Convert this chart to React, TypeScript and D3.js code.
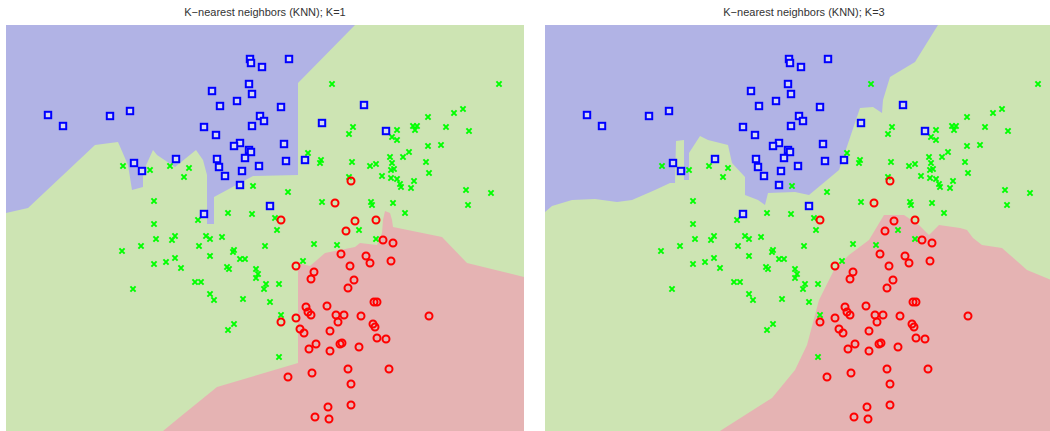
import React, { useRef, useEffect } from 'react';
import * as d3 from 'd3';

// test points (units = left panel pixels)
const bluePoints = [
  [48, 115], [63, 126], [110, 116], [130, 111], [134, 163], [142, 171], [176, 159],
  [250, 59], [251, 63], [262, 67], [289, 59], [249, 84], [212, 91], [252, 94], [237, 101],
  [220, 106], [281, 107], [260, 116], [264, 121], [204, 127], [252, 126], [216, 135], [322, 123],
  [240, 143], [234, 146], [284, 144], [249, 150], [251, 152], [217, 159], [245, 158], [219, 167],
  [259, 166], [286, 161], [305, 160], [225, 176], [242, 171], [240, 185], [270, 206], [204, 214],
  [364, 105], [386, 131]
];

const greenPoints = [
  [123, 166], [150, 170], [170, 166], [154, 201], [154, 224],
  [332, 84], [353, 127], [349, 134], [308, 153], [321, 160], [320, 163], [352, 162], [189, 168],
  [184, 177], [349, 177], [253, 186], [288, 192], [322, 202], [228, 213], [252, 214], [275, 218], [198, 220],
  [499, 84], [463, 109], [454, 113], [428, 117], [446, 127], [469, 131], [397, 130], [413, 126],
  [417, 126], [415, 130], [392, 137], [397, 140], [428, 146], [441, 145], [409, 152], [390, 157],
  [403, 157], [392, 163], [370, 166], [376, 164], [426, 162], [391, 170], [394, 169], [429, 173],
  [382, 176], [391, 178], [397, 179], [414, 181], [400, 184], [401, 187], [411, 188], [466, 190],
  [491, 193], [371, 202], [372, 205], [393, 203], [468, 205], [405, 213],
  [175, 236], [156, 239], [172, 240], [141, 246], [122, 251], [175, 258], [154, 264], [166, 262],
  [181, 268], [133, 289],
  [277, 230], [206, 236], [210, 239], [222, 237], [199, 246], [265, 246], [314, 244], [337, 245],
  [234, 250], [233, 252], [210, 256], [240, 259], [245, 259], [227, 267], [229, 269], [256, 269],
  [258, 274], [256, 278], [303, 261], [195, 282], [201, 282], [266, 284], [264, 289], [279, 284],
  [210, 294], [214, 300], [243, 299], [270, 302], [281, 315], [234, 324], [228, 330], [279, 357],
  [359, 230], [376, 239]
];

const redPoints = [
  [351, 181], [335, 203], [281, 220], [355, 221], [376, 220],
  [346, 231], [341, 254], [350, 266], [296, 266], [314, 272], [311, 279], [354, 280], [348, 288],
  [306, 307], [327, 306], [308, 312], [311, 315], [336, 315], [344, 315], [338, 322], [296, 318],
  [281, 322], [300, 329], [304, 333], [330, 331], [316, 344], [309, 349], [340, 344], [342, 343],
  [330, 351], [359, 347], [348, 369], [288, 377], [312, 373], [351, 384], [351, 405], [328, 407],
  [315, 417], [329, 419],
  [383, 240], [393, 243], [366, 256], [370, 263], [391, 261], [374, 302], [377, 302], [361, 316],
  [429, 316], [373, 324], [375, 327], [377, 338], [386, 339], [389, 369]
];

// decision region outlines (green is the background)
const blueRegionK1 = [
  [6, 25], [355, 25], [298, 83], [298, 175], [253, 176], [214, 197], [214, 224], [207, 224],
  [207, 175], [203, 160], [196, 150], [175, 167], [157, 155], [153, 150], [143, 172], [143, 187],
  [132, 190], [128, 165], [118, 142], [95, 145], [28, 208], [6, 213]
];

const redRegionK1 = [
  [163, 431], [180, 417], [217, 387], [298, 363], [298, 263], [310, 266], [325, 253], [355, 247],
  [360, 243], [377, 245], [382, 233], [383, 220], [385, 211], [390, 213], [392, 220], [393, 227],
  [442, 237], [467, 263], [524, 277], [524, 431]
];

const blueRegionK3 = [
  [6, 25], [399, 25], [376, 62], [351, 77], [344, 100], [343, 113], [334, 107], [321, 108],
  [300, 170], [270, 195], [256, 192], [229, 193], [226, 205], [219, 200], [206, 195], [206, 177],
  [193, 163], [189, 145], [169, 140], [161, 136], [150, 153], [150, 180], [145, 180], [145, 140],
  [137, 141], [136, 183], [131, 183], [116, 190], [93, 200], [78, 202], [56, 199], [33, 200],
  [13, 206], [6, 212]
];

const redRegionK3 = [
  [181, 431], [233, 398], [256, 370], [268, 345], [280, 300], [295, 270], [310, 255], [330, 240],
  [345, 215], [365, 215], [380, 225], [390, 235], [400, 225], [421, 228], [428, 230], [434, 238],
  [443, 245], [463, 248], [488, 270], [524, 285], [524, 431]
];

const xDomain = [6, 524];
const yDomain = [25, 431];
const titles = ['K\u2212nearest neighbors (KNN); K=1', 'K\u2212nearest neighbors (KNN); K=3'];
const regionColors = ['#b1b3e5', '#cde4b3', '#e5b3b3'];
const pointColors = ['#0000ff', '#00ff00', '#ff0000'];

const App = () => {
  const inputEl = useRef(null);

  var width = 1050;
  var height = 431;
  var panelW = 518;
  var panelH = 406;
  var panelX = [6, 545];
  var panelTop = 25;
  var regions = [[blueRegionK1, redRegionK1], [blueRegionK3, redRegionK3]];

  useEffect(() => {
    d3.select(inputEl.current).select('svg').remove();

    var xScale = d3.scaleLinear().domain(xDomain).range([0, panelW]);
    var yScale = d3.scaleLinear().domain(yDomain).range([0, panelH]);
    var area = d3.line().x(d => xScale(d[0])).y(d => yScale(d[1])).curve(d3.curveLinearClosed);

    var svg = d3.select(inputEl.current).append('svg')
      .attr('width', width).attr('height', height)
      .style('position', 'absolute').style('left', 0).style('top', 0);

    regions.forEach((reg, pi) => {
      var g = svg.append('g').attr('transform', 'translate(' + panelX[pi] + ',' + panelTop + ')');

      g.append('rect')
        .attr('width', panelW)
        .attr('height', panelH)
        .attr('fill', regionColors[1]);

      g.append('path').attr('d', area(reg[0])).attr('fill', regionColors[0]);
      g.append('path').attr('d', area(reg[1])).attr('fill', regionColors[2]);

      g.append('g').selectAll('path')
          .data(greenPoints)
        .join('path')
          .attr('d', d => {
            var cx = xScale(d[0]), cy = yScale(d[1]), s = 2.6;
            return 'M' + (cx - s) + ',' + (cy - s) + 'L' + (cx + s) + ',' + (cy + s) +
              'M' + (cx - s) + ',' + (cy + s) + 'L' + (cx + s) + ',' + (cy - s);
          })
          .attr('stroke', pointColors[1])
          .attr('stroke-width', 2)
          .attr('fill', 'none');

      g.append('g').selectAll('rect')
          .data(bluePoints)
        .join('rect')
          .attr('x', d => xScale(d[0]) - 3.2)
          .attr('y', d => yScale(d[1]) - 3.2)
          .attr('width', 6.4)
          .attr('height', 6.4)
          .attr('stroke', pointColors[0])
          .attr('stroke-width', 2)
          .attr('fill', '#d6d8f4');

      g.append('g').selectAll('circle')
          .data(redPoints)
        .join('circle')
          .attr('cx', d => xScale(d[0]))
          .attr('cy', d => yScale(d[1]))
          .attr('r', 3.5)
          .attr('stroke', pointColors[2])
          .attr('stroke-width', 2)
          .attr('fill', 'none');

      svg.append('text')
        .attr('x', panelX[pi] + panelW / 2)
        .attr('y', 16)
        .attr('text-anchor', 'middle')
        .style('font-family', 'Liberation Sans, Arial, sans-serif')
        .style('font-size', '11px')
        .attr('fill', '#333')
        .text(titles[pi]);
    });
  }, []);

  return (
    <div ref={inputEl}></div>
  );
};

export default App;
